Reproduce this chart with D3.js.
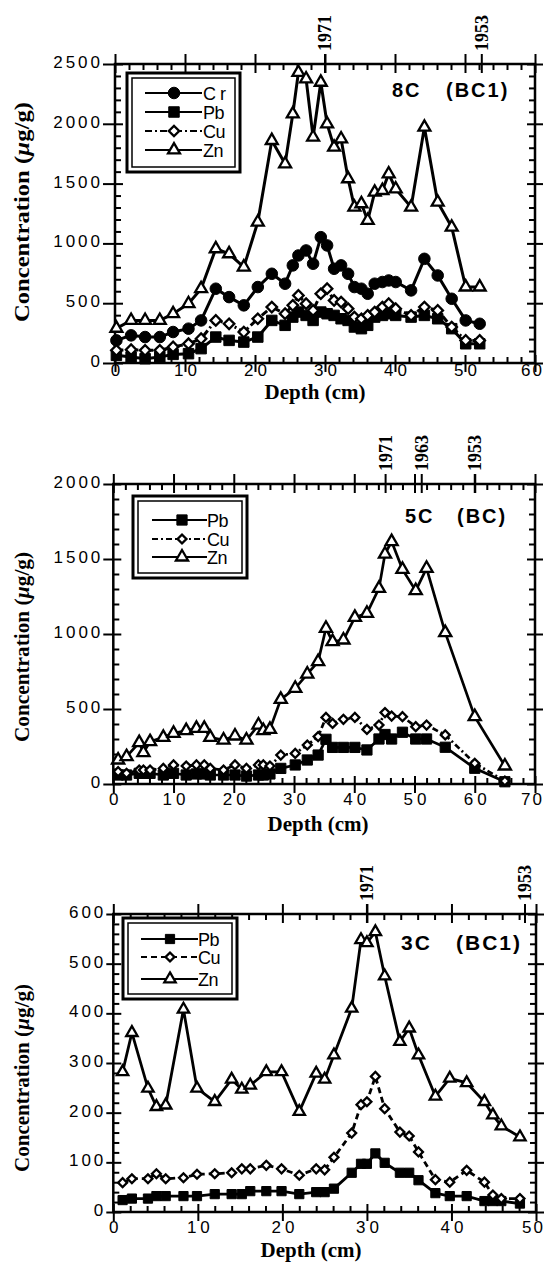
<!DOCTYPE html>
<html>
<head>
<meta charset="UTF-8">
<title>Sediment core metal profiles</title>
<style>
  body { margin: 0; background: #fff; overflow: hidden; }
  svg { display: block; }
</style>
<script src="https://cdn.jsdelivr.net/npm/d3@7"></script>
</head>
<body>
<script>
// ---- values ----
// core 8C (BC1)
const depth8C = [0.2, 2.3, 4.3, 6.4, 8.3, 10.5, 12.3, 14.4, 16.3, 18.4, 20.4, 22.4, 24.3, 25.4, 26.2, 27.3, 28.3, 29.4,
    30.3, 31.3, 32.3, 33.3, 34.2, 35.2, 36.1, 37.1, 38.2, 39.1, 40.1, 42.3, 44.2, 46.1, 48.1, 50.1, 52.1];
const cr8C = [189, 231, 217, 217, 259, 287, 356, 621, 551, 482, 635, 746, 663, 816, 899, 941, 830, 1052,
    983, 788, 816, 746, 635, 621, 579, 663, 677, 690, 677, 607, 871, 732, 537, 356, 328];
const pb8C = [64, 50, 36, 50, 72, 78, 120, 217, 189, 175, 217, 356, 315, 384, 426, 398, 356, 426,
    412, 398, 370, 356, 301, 287, 315, 384, 398, 412, 398, 384, 398, 370, 287, 161, 161];
const cu8C = [106, 111, 106, 106, 134, 161, 203, 356, 328, 259, 370, 468, 412, 482, 565, 496, 440, 579,
    621, 523, 509, 454, 384, 370, 398, 426, 468, 496, 454, 398, 468, 440, 301, 189, 189];
const zn8C = [290, 356, 356, 356, 412, 496, 621, 955, 913, 802, 1178, 1860, 1665, 2082, 2430, 2375, 1888, 2347,
    1999, 1804, 1874, 1540, 1303, 1331, 1192, 1428, 1442, 1581, 1456, 1303, 1971, 1345, 1136, 635, 635];

// core 5C (BC)
const depth5C = [0.8, 2.2, 4.3, 5.0, 6.1, 8.3, 10.0, 12.1, 13.8, 15.1, 16.1, 18.3, 20.2, 22.1, 24.1, 24.9, 26.0,
    27.8, 30.2, 32.2, 34.0, 35.3, 36.4, 38.2, 40.1, 42.1, 44.1, 45.1, 46.2, 48.0, 50.2, 52.0, 55.1, 60.0, 65.0];
const pb5C = [60, 60, 71, 71, 71, 60, 71, 60, 67, 67, 60, 60, 60, 53, 60, 60, 67,
    104, 127, 160, 193, 298, 244, 244, 244, 227, 300, 330, 300, 345, 300, 300, 245, 105, 15];
const cu5C = [82, 71, 93, 93, 93, 104, 127, 120, 127, 127, 104, 93, 127, 104, 127, 127, 120,
    193, 204, 260, 316, 444, 404, 431, 444, 364, 393, 476, 453, 449, 382, 393, 327, 138, 20];
const zn5C = [160, 182, 276, 209, 282, 311, 338, 356, 371, 371, 311, 293, 320, 293, 393, 356, 364,
    564, 638, 733, 816, 1038, 949, 960, 1111, 1138, 1304, 1533, 1616, 1431, 1289, 1438, 1009, 449, 120];

// core 3C (BC1)
const depth3C = [1.1, 2.2, 4.1, 5.1, 6.2, 8.3, 9.9, 12.0, 14.0, 15.2, 16.2, 18.1, 19.9, 22.0, 24.0, 25.0,
    26.1, 28.2, 29.3, 30.0, 31.0, 32.1, 33.9, 35.0, 36.1, 38.1, 39.8, 41.8, 43.9, 44.9, 45.9, 48.1];
const pb3C = [24, 27, 27, 32, 32, 32, 32, 36, 36, 36, 42, 42, 42, 36, 40, 40,
    47, 79, 97, 97, 118, 99, 79, 79, 64, 38, 32, 32, 22, 22, 22, 17];
const cu3C = [59, 67, 67, 77, 67, 69, 76, 77, 79, 87, 87, 94, 87, 74, 87, 85,
    110, 159, 216, 222, 273, 208, 161, 153, 121, 65, 60, 84, 60, 34, 27, 27];
const zn3C = [282, 361, 249, 212, 215, 408, 249, 222, 267, 247, 255, 282, 282, 202, 279, 267,
    316, 410, 548, 542, 564, 475, 343, 370, 316, 233, 269, 260, 222, 195, 173, 151];

// dated horizons (year label, depth cm)
const years8C = [["1971", 30], ["1953", 52.4]];
const years5C = [["1971", 45.2], ["1963", 51.2], ["1953", 60]];
const years3C = [["1971", 30], ["1953", 48.7]];

const fontSans = '"Liberation Sans", Arial, Helvetica, sans-serif';
const fontSerif = '"Liberation Serif", "Times New Roman", serif';

const width = 546, height = 1262;
const svg = d3.select('body').append('svg')
    .attr('width', width)
    .attr('height', height);

// marker styles
const styles = {
    Cr: {sym: d3.symbolCircle, fill: '#000'},
    Pb: {sym: d3.symbolSquare, fill: '#000'},
    Cu: {sym: d3.symbolSquare, fill: '#fff', rot: 45},
    Zn: {sym: d3.symbolTriangle, fill: '#fff'}
};

function drawMarker(g, name, cx, cy, size) {
    const st = styles[name];
    g.append('path')
        .attr('d', d3.symbol().type(st.sym).size(size)())
        .attr('transform', `translate(${cx},${cy})` + (st.rot ? ` rotate(${st.rot})` : ''))
        .attr('fill', st.fill)
        .attr('stroke', '#000')
        .attr('stroke-width', st.fill === '#fff' ? 2.3 : 1);
}

function drawPanel(p) {
    const x = d3.scaleLinear().domain(p.xDomain).range([p.left, p.right]);
    const y = d3.scaleLinear().domain(p.yDomain).range([p.bottom, p.top]);
    const g = svg.append('g');

    const xMajor = d3.range(p.xDomain[0], p.xDomain[1] + 0.01, p.xStep);
    const xMinor = d3.range(p.xDomain[0], p.xDomain[1] + 0.01, p.xMinorStep).filter(v => v % p.xStep !== 0);
    const yMajor = d3.range(p.yDomain[0], p.yDomain[1] + 0.01, p.yStep);
    const yMinor = d3.range(p.yDomain[0], p.yDomain[1] + 0.01, p.yMinorStep).filter(v => v % p.yStep !== 0);

    function addAxis(axis, tx, ty) {
        const a = g.append('g').attr('transform', `translate(${tx},${ty})`).call(axis.tickSizeOuter(0));
        a.select('.domain').remove();
        a.selectAll('line').attr('stroke', '#000').attr('stroke-width', 2);
        return a;
    }

    // bottom axis
    const bx = addAxis(d3.axisBottom(x).tickValues(xMajor).tickSize(9).tickFormat(d3.format('d')), 0, p.bottom);
    bx.selectAll('text')
        .attr('y', p.xLabelDy).attr('dy', 0)
        .attr('dx', 2)
        .attr('fill', '#000')
        .style('font-family', fontSans).style('font-size', '17px').style('letter-spacing', '4px');
    // last label sits at the page edge: pull it in a little
    bx.selectAll('text').filter(d => d === p.xDomain[1])
        .attr('dx', -3).style('letter-spacing', '2px');
    addAxis(d3.axisTop(x).tickValues(xMajor).tickSize(8).tickFormat(''), 0, p.bottom);
    addAxis(d3.axisTop(x).tickValues(xMinor).tickSize(6).tickFormat(''), 0, p.bottom);
    // top axis
    addAxis(d3.axisTop(x).tickValues(xMajor).tickSize(10).tickFormat(''), 0, p.top);
    addAxis(d3.axisBottom(x).tickValues(xMajor).tickSize(9).tickFormat(''), 0, p.top);
    addAxis(d3.axisBottom(x).tickValues(xMinor).tickSize(6).tickFormat(''), 0, p.top);
    // left axis
    const ly = addAxis(d3.axisLeft(y).tickValues(yMajor).tickSize(p.yOut).tickPadding(0).tickFormat(d3.format('d')), p.left, 0);
    ly.selectAll('text')
        .attr('dy', '0.2em')
        .attr('fill', '#000')
        .style('font-family', fontSans).style('font-size', '17px').style('letter-spacing', '3px');
    addAxis(d3.axisRight(y).tickValues(yMajor).tickSize(8).tickFormat(''), p.left, 0);
    addAxis(d3.axisRight(y).tickValues(yMinor).tickSize(6).tickFormat(''), p.left, 0);
    // right axis
    addAxis(d3.axisRight(y).tickValues(yMajor).tickSize(8).tickFormat(''), p.right, 0);
    addAxis(d3.axisLeft(y).tickValues(yMajor).tickSize(8).tickFormat(''), p.right, 0);
    addAxis(d3.axisLeft(y).tickValues(yMinor).tickSize(6).tickFormat(''), p.right, 0);

    g.append('rect')
        .attr('x', p.left).attr('y', p.top)
        .attr('width', p.right - p.left).attr('height', p.bottom - p.top)
        .attr('fill', 'none').attr('stroke', '#000').attr('stroke-width', 2.5);

    // dated horizons on the top axis
    p.years.forEach(([label, d]) => {
        g.append('line')
            .attr('x1', x(d)).attr('x2', x(d))
            .attr('y1', p.top - 10).attr('y2', p.top + 9)
            .attr('stroke', '#000').attr('stroke-width', 2);
        g.append('text')
            .attr('transform', `translate(${x(d) + 6},${p.top - 13}) rotate(-90)`)
            .attr('text-anchor', 'start')
            .style('font-family', fontSerif).style('font-size', '18px').style('font-weight', 'bold')
            .text(label);
    });

    // series lines
    const line = d3.line().x(d => x(d[0])).y(d => y(d[1]));
    p.series.forEach(s => {
        const pts = p.depth.map((d, i) => [d, s.values[i]]);
        g.append('path')
            .datum(pts)
            .attr('d', line)
            .attr('fill', 'none')
            .attr('stroke', '#000')
            .attr('stroke-width', p.lineWidth)
            .attr('stroke-dasharray', s.name === 'Cu' ? p.cuDash : null);
    });
    // markers
    ['Pb', 'Cr', 'Cu', 'Zn'].forEach(name => {
        const s = p.series.find(t => t.name === name);
        if (!s) return;
        p.depth.forEach((d, i) => drawMarker(g, name, x(d), y(s.values[i]), p.sizes[name]));
    });

    // legend
    const lg = p.legend;
    g.append('rect')
        .attr('x', lg.x0).attr('y', lg.y0)
        .attr('width', lg.x1 - lg.x0).attr('height', lg.y1 - lg.y0)
        .attr('fill', '#fff').attr('stroke', '#000').attr('stroke-width', 3);
    g.append('rect')
        .attr('x', lg.x0 + 5).attr('y', lg.y0 + 5)
        .attr('width', lg.x1 - lg.x0 - 10).attr('height', lg.y1 - lg.y0 - 10)
        .attr('fill', 'none').attr('stroke', '#000').attr('stroke-width', 1.5);
    p.series.forEach((s, i) => {
        const ry = lg.rows[i];
        g.append('line')
            .attr('x1', lg.lineX[0]).attr('x2', lg.lineX[1])
            .attr('y1', ry).attr('y2', ry)
            .attr('stroke', '#000').attr('stroke-width', 2)
            .attr('stroke-dasharray', s.name === 'Cu' ? p.cuDash : null);
        drawMarker(g, s.name, lg.markX, ry, p.sizes[s.name]);
        g.append('text')
            .attr('x', lg.textX).attr('y', ry + 6.5)
            .style('font-family', fontSans).style('font-size', '18px')
            .style('letter-spacing', '-0.5px')
            .text(s.label);
    });

    // core name
    [[p.name.a, p.name.x1], [p.name.b, p.name.x2]].forEach(([t, tx]) => {
        g.append('text')
            .attr('x', tx).attr('y', p.name.y)
            .style('font-family', fontSans).style('font-size', p.name.size + 'px').style('font-weight', 'bold')
            .style('letter-spacing', '2px')
            .text(t);
    });

    // axis titles
    g.append('text')
        .attr('x', p.xTitle[0]).attr('y', p.xTitle[1])
        .attr('text-anchor', 'middle')
        .style('font-family', fontSerif).style('font-size', '21px').style('font-weight', 'bold')
        .text('Depth (cm)');
    const yt = g.append('text')
        .attr('transform', `translate(29,${p.yTitle[0]}) rotate(-90)`)
        .attr('text-anchor', 'middle')
        .attr('textLength', p.yTitle[1])
        .attr('lengthAdjust', 'spacingAndGlyphs')
        .style('font-family', fontSerif).style('font-size', p.yTitle[2] + 'px').style('font-weight', 'bold');
    yt.append('tspan').text('Concentration (');
    yt.append('tspan').style('font-style', 'italic').text('\u00b5');
    yt.append('tspan').text('g/g)');
}

drawPanel({
    left: 115, right: 535, top: 64, bottom: 363,
    xDomain: [0, 60], yDomain: [0, 2500], xStep: 10, xMinorStep: 2, yStep: 500, yMinorStep: 100, yOut: 12,
    xLabelDy: 13, lineWidth: 3, cuDash: '7,3,2,3',
    sizes: {Cr: 105, Pb: 110, Cu: 55, Zn: 62},
    depth: depth8C,
    series: [
        {name: 'Cr', label: 'C r', values: cr8C},
        {name: 'Pb', label: 'Pb', values: pb8C},
        {name: 'Cu', label: 'Cu', values: cu8C},
        {name: 'Zn', label: 'Zn', values: zn8C}
    ],
    years: years8C,
    legend: {x0: 127, y0: 73, x1: 240, y1: 172, rows: [93, 112, 131, 150], lineX: [145, 202], markX: 174, textX: 203},
    name: {a: '8C', b: '(BC1)', x1: 392, x2: 446, y: 97, size: 20},
    xTitle: [315, 399], yTitle: [212, 220, 22]
});

drawPanel({
    left: 113.3, right: 535, top: 484, bottom: 784,
    xDomain: [0, 70], yDomain: [0, 2000], xStep: 10, xMinorStep: 2, yStep: 500, yMinorStep: 100, yOut: 10,
    xLabelDy: 21, lineWidth: 2.7, cuDash: '6,3,2,3',
    sizes: {Pb: 105, Cu: 40, Zn: 64},
    depth: depth5C,
    series: [
        {name: 'Pb', label: 'Pb', values: pb5C},
        {name: 'Cu', label: 'Cu', values: cu5C},
        {name: 'Zn', label: 'Zn', values: zn5C}
    ],
    years: years5C,
    legend: {x0: 133, y0: 496, x1: 247, y1: 578, rows: [520, 539, 557], lineX: [152, 207], markX: 182, textX: 207},
    name: {a: '5C', b: '(BC)', x1: 405, x2: 457, y: 523, size: 20},
    xTitle: [318, 831], yTitle: [647, 190, 20]
});

drawPanel({
    left: 113.3, right: 536, top: 914, bottom: 1212,
    xDomain: [0, 50], yDomain: [0, 600], xStep: 10, xMinorStep: 2, yStep: 100, yMinorStep: 20, yOut: 7,
    xLabelDy: 21, lineWidth: 2.8, cuDash: '6,4',
    sizes: {Pb: 85, Cu: 40, Zn: 56},
    depth: depth3C,
    series: [
        {name: 'Pb', label: 'Pb', values: pb3C},
        {name: 'Cu', label: 'Cu', values: cu3C},
        {name: 'Zn', label: 'Zn', values: zn3C}
    ],
    years: years3C,
    legend: {x0: 123, y0: 918, x1: 237, y1: 999, rows: [939, 957, 979], lineX: [141, 198], markX: 170, textX: 198},
    name: {a: '3C', b: '(BC1)', x1: 401, x2: 456, y: 950, size: 21},
    xTitle: [311, 1257], yTitle: [1078, 188, 20]
});
</script>
</body>
</html>
